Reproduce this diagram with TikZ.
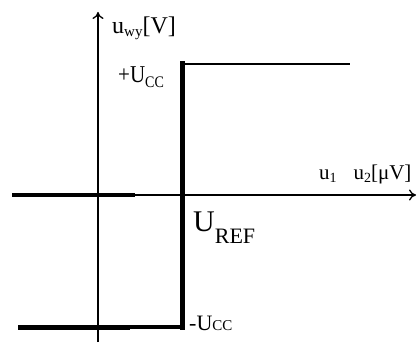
\documentclass[tikz,border=0pt]{standalone}
\usepackage{fontspec}
\setmainfont{Liberation Serif}
\usetikzlibrary{arrows.meta}
\tikzset{
  axis/.style={line width=1.3pt,-{To[length=7pt,width=11pt,line width=1.3pt]}},
  lbl/.style={inner sep=0pt,anchor=base west}
}
\newcommand{\fs}[1]{\fontsize{#1}{#1}\selectfont}
\newcommand{\sbs}[3]{\raisebox{#1}{\fs{#2}#3}}
\begin{document}
\begin{tikzpicture}[x=1pt,y=-1pt]
\useasboundingbox (0,0) rectangle (419,342);
% axes
\coordinate (yb) at (98,342);
\coordinate (yt) at (98,12);
\coordinate (xl) at (12,195);
\coordinate (xr) at (416,195);
\coordinate (xm) at (135,195);
\draw[axis] (yb) -- (yt);
\draw[axis] (xl) -- (xr);
\draw[line width=3.3pt] (xl) -- (xm);
% characteristic
\coordinate (b0) at (18,327);
\coordinate (b1) at (130,327);
\coordinate (b2) at (182,327);
\coordinate (t1) at (182,64);
\coordinate (t2) at (350,64);
\draw[line width=5pt] (b0) -- (b1);
\draw[line width=3.4pt] (b1) -- (b2);
\draw[line width=5pt,line cap=rect] (b2) -- (t1);
\draw[line width=2.7pt] (t1) -- (t2);
% labels
\node[lbl] (uwy) at (112,34) {\fs{24}u\sbs{-3pt}{15}{wy}[V]};
\node[lbl] (ucc) at (118,82) {\scalebox{1}[1.15]{\fs{21}+U\sbs{-5pt}{14}{CC}}};
\node[lbl] (ucm) at (189,330) {\fs{22}-U\sbs{0pt}{15}{CC}};
\node[lbl] (uref) at (193,231) {\fs{30}U\sbs{-12pt}{22}{REF}};
\node[lbl] (ux) at (319,179) {\fs{21}u\sbs{-3pt}{14}{1}\hspace{0.8em}u\sbs{-3pt}{14}{2}[μV]};
\end{tikzpicture}
\end{document}
